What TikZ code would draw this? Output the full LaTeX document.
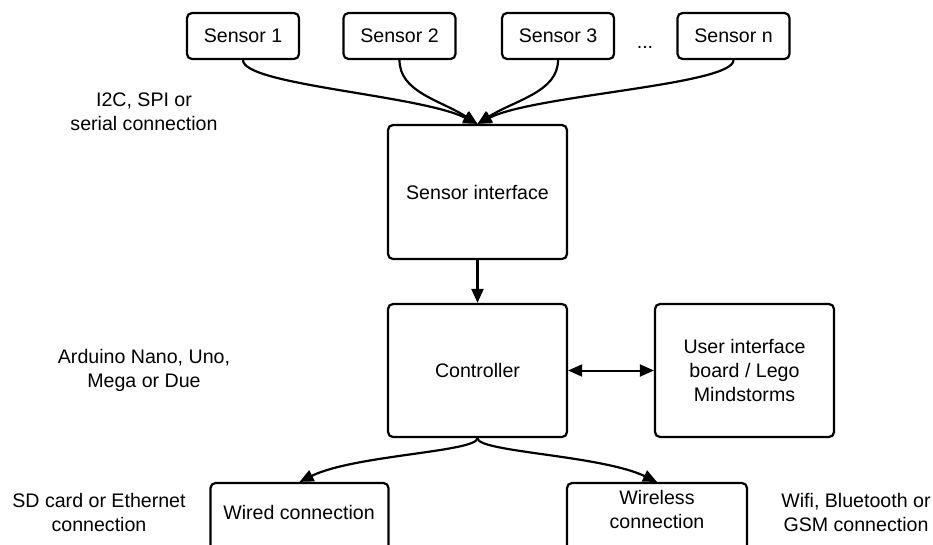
\documentclass[tikz,border=0pt]{standalone}
\usepackage{fontspec}
\setmainfont{Liberation Sans}
\usetikzlibrary{arrows.meta}
\begin{document}
\begin{tikzpicture}[x=1pt,y=-1pt,
  box/.style={draw, line width=2.2pt, rounded corners=5pt, fill=white, inner sep=0pt, align=center},
  lbl/.style={align=center, inner sep=0pt},
  conn/.style={line width=2.2pt, -{Triangle[length=14pt,width=12pt]}},
  biconn/.style={line width=2pt, {Triangle[length=14pt,width=12pt]}-{Triangle[length=14pt,width=12pt]}},
  every node/.style={font=\fontsize{19.6}{24}\selectfont}
]
\useasboundingbox (0,0) rectangle (933,544);
\clip (0,0) rectangle (933,544);
% sensors
\node[box, minimum width=112pt, minimum height=46pt] (s1) at (243,36) {Sensor 1};
\node[box, minimum width=112pt, minimum height=46pt] (s2) at (399.5,36) {Sensor 2};
\node[box, minimum width=112pt, minimum height=46pt] (s3) at (558,36) {Sensor 3};
\node[box, minimum width=112pt, minimum height=46pt] (sn) at (733.5,36) {Sensor n};
\node[lbl] (dots) at (645,47) {...};
% main boxes
\node[box, minimum width=179pt, minimum height=134pt] (si) at (477.5,192) {Sensor interface};
\node[box, minimum width=179pt, minimum height=133pt] (ctrl) at (477.5,370.5) {Controller};
\node[box, minimum width=179pt, minimum height=133pt] (ui) at (744.5,370.5) {User interface\\board / Lego\\Mindstorms};
\node[box, minimum width=178pt, minimum height=133pt] (wired) at (299.5,549.5) {};
\node[box, minimum width=180pt, minimum height=133pt] (wless) at (657,549.5) {};
\node[lbl] (wiredt) at (299,512) {Wired connection};
\node[lbl] (wlesst) at (657,509) {Wireless\\connection};
% side labels
\node[lbl] (l1) at (144,112) {I2C, SPI or\\serial connection};
\node[lbl] (l2) at (144,370) {Arduino Nano, Uno,\\Mega or Due};
\node[lbl] (l3) at (99,512) {SD card or Ethernet\\connection};
\node[lbl] (l4) at (856,512) {Wifi, Bluetooth or\\GSM connection};
% connectors
\draw[conn] (s1.south) .. controls (243,85) and (420,95) .. (si.north);
\draw[conn] (s2.south) .. controls (399.5,92) and (440,100) .. (si.north);
\draw[conn] (s3.south) .. controls (558,92) and (515,100) .. (si.north);
\draw[conn] (sn.south) .. controls (733.5,85) and (534,95) .. (si.north);
\draw[conn] (si.south) -- (ctrl.north);
\draw[biconn] (ctrl.east) -- (ui.west);
\draw[conn] (ctrl.south) .. controls (477,452) and (354,455) .. (wired.north);
\draw[conn] (ctrl.south) .. controls (477,452) and (600,455) .. (wless.north);
\end{tikzpicture}
\end{document}
